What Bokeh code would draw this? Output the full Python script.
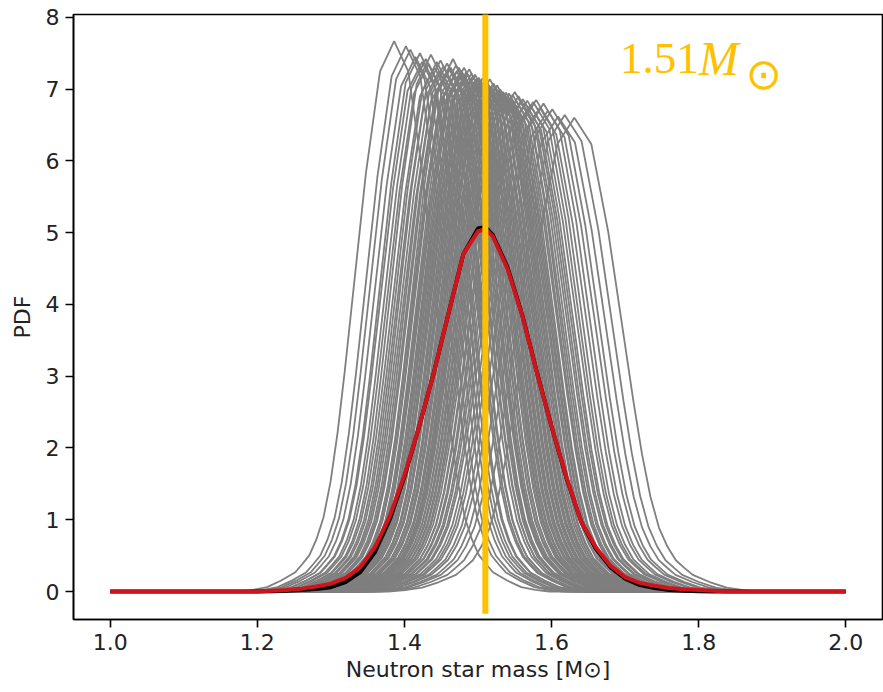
from bokeh.plotting import figure
from bokeh.models import FixedTicker, Label
from bokeh.embed import file_html
from bokeh.resources import INLINE

# ---------------- data ----------------
x_ticks = [1.0, 1.2, 1.4, 1.6, 1.8, 2.0]
x_tick_labels = ["1.0", "1.2", "1.4", "1.6", "1.8", "2.0"]
y_ticks = [0, 1, 2, 3, 4, 5, 6, 7, 8]

# shape of an individual (grey) sample curve: offset from its peak, height relative to peak
profile_dx = [-0.22, -0.20, -0.18, -0.16, -0.14, -0.13, -0.12, -0.11, -0.10, -0.09, -0.08,
              -0.07, -0.06, -0.05, -0.04, -0.02, 0.0, 0.02, 0.04, 0.05, 0.06,
              0.07, 0.08, 0.09, 0.10, 0.11, 0.12, 0.13, 0.14, 0.16, 0.18, 0.20, 0.22]
profile_y = [0.0, 0.003, 0.008, 0.02, 0.035, 0.05, 0.066, 0.095, 0.135, 0.20, 0.29,
             0.40, 0.52, 0.64, 0.76, 0.945, 1.0, 0.945, 0.76, 0.64, 0.52,
             0.40, 0.29, 0.20, 0.135, 0.095, 0.066, 0.05, 0.035, 0.02, 0.008, 0.003, 0.0]

# peak position, peak height and relative width of each grey sample curve
curve_centers = [
    1.386, 1.402, 1.408, 1.415, 1.421, 1.424, 1.429, 1.433, 1.436, 1.441,
    1.444, 1.447, 1.449, 1.453, 1.456, 1.458, 1.461, 1.463, 1.466, 1.468,
    1.470, 1.471, 1.474, 1.476, 1.477, 1.479, 1.481, 1.483, 1.484, 1.486,
    1.488, 1.489, 1.491, 1.493, 1.494, 1.496, 1.498, 1.499, 1.501, 1.503,
    1.504, 1.506, 1.508, 1.509, 1.511, 1.513, 1.514, 1.516, 1.518, 1.519,
    1.521, 1.523, 1.525, 1.526, 1.528, 1.530, 1.532, 1.534, 1.536, 1.538,
    1.540, 1.542, 1.545, 1.547, 1.550, 1.552, 1.555, 1.558, 1.561, 1.564,
    1.567, 1.571, 1.575, 1.579, 1.584, 1.589, 1.595, 1.601, 1.609, 1.618,
    1.631]
curve_peaks = [
    7.67, 7.60, 7.55, 7.45, 7.50, 7.38, 7.42, 7.35, 7.48, 7.30,
    7.38, 7.25, 7.40, 7.32, 7.22, 7.36, 7.28, 7.30, 7.42, 7.20,
    7.33, 7.25, 7.30, 7.18, 7.26, 7.22, 7.30, 7.15, 7.24, 7.20,
    7.28, 7.12, 7.22, 7.18, 7.10, 7.20, 7.14, 7.08, 7.16, 7.12,
    7.05, 7.15, 7.10, 7.02, 7.12, 7.06, 7.00, 7.14, 7.04, 6.98,
    7.08, 7.02, 6.95, 7.05, 6.98, 7.00, 6.92, 6.96, 6.90, 6.95,
    6.88, 6.94, 6.86, 6.92, 6.96, 6.84, 6.90, 6.82, 6.86, 6.80,
    6.84, 6.78, 6.82, 6.85, 6.74, 6.80, 6.70, 6.72, 6.62, 6.64,
    6.60]
curve_widths = [
    0.96, 0.97, 0.97, 0.98, 0.97, 0.99, 0.98, 0.99, 0.97, 1.00,
    0.99, 1.00, 0.98, 1.00, 1.01, 0.99, 1.00, 1.00, 0.98, 1.01,
    1.00, 1.01, 1.00, 1.02, 1.01, 1.02, 1.00, 1.03, 1.01, 1.02,
    1.01, 1.03, 1.02, 1.03, 1.04, 1.02, 1.03, 1.04, 1.03, 1.04,
    1.05, 1.03, 1.04, 1.05, 1.04, 1.05, 1.06, 1.04, 1.05, 1.06,
    1.05, 1.06, 1.07, 1.06, 1.07, 1.06, 1.08, 1.07, 1.08, 1.07,
    1.08, 1.07, 1.09, 1.08, 1.07, 1.09, 1.08, 1.10, 1.09, 1.10,
    1.09, 1.11, 1.10, 1.10, 1.12, 1.11, 1.13, 1.12, 1.14, 1.14,
    1.15]

# mean curve (black) and Gaussian fit (red)
mass = [1.00, 1.20, 1.22, 1.24, 1.26, 1.28, 1.30, 1.32, 1.34, 1.36, 1.38, 1.40,
        1.42, 1.44, 1.46, 1.48, 1.50, 1.51, 1.52, 1.54, 1.56, 1.58, 1.60, 1.62,
        1.64, 1.66, 1.68, 1.70, 1.72, 1.74, 1.76, 1.78, 1.80, 1.82, 1.84, 2.00]
mean_pdf = [0.0, 0.0, 0.005, 0.01, 0.02, 0.035, 0.06, 0.13, 0.27, 0.55, 1.00, 1.60,
            2.30, 3.05, 3.88, 4.70, 5.06, 5.08, 4.97, 4.52, 3.86, 3.06, 2.30, 1.59,
            0.98, 0.60, 0.34, 0.18, 0.09, 0.05, 0.02, 0.01, 0.005, 0.0, 0.0, 0.0]
fit_pdf = [0.0, 0.0, 0.01, 0.02, 0.04, 0.07, 0.11, 0.19, 0.34, 0.62, 1.05, 1.62,
           2.30, 3.05, 3.88, 4.70, 5.02, 5.05, 4.95, 4.50, 3.85, 3.05, 2.30, 1.60,
           0.98, 0.62, 0.36, 0.20, 0.12, 0.08, 0.05, 0.03, 0.02, 0.01, 0.0, 0.0]

marker_mass = [1.51]
marker_text = ["1.51", "M", "\u2299"]

# ---------------- figure ----------------
p = figure(width=883, height=692, x_range=(0.95, 2.05), y_range=(-0.39, 8.04),
           output_backend="svg", toolbar_location=None,
           min_border_left=73, min_border_right=1, min_border_top=14, min_border_bottom=73)
p.background_fill_color = "white"
p.border_fill_color = "white"
p.outline_line_color = "black"
p.outline_line_width = 1.6
p.xgrid.visible = False
p.ygrid.visible = False

# grey sample curves
xs, ys = [], []
for c, h, w in zip(curve_centers, curve_peaks, curve_widths):
    xs.append([1.0] + [c + w * d for d in profile_dx] + [2.0])
    ys.append([0.0] + [h * v for v in profile_y] + [0.0])
p.multi_line(xs, ys, line_color="#7f7f7f", line_width=1.8)

p.line(mass, mean_pdf, line_color="black", line_width=4)
p.line(mass, fit_pdf, line_color="#d0141c", line_width=4)

# vertical marker
p.segment(x0=marker_mass, y0=[-0.31], x1=marker_mass, y1=[8.2],
          line_color="#FFC000", line_width=6)

p.add_layout(Label(x=1.693, y=7.43, text=marker_text[0], text_font="Liberation Serif",
                   text_font_size="45px", text_color="#FFC000", text_baseline="alphabetic"))
p.add_layout(Label(x=1.800, y=7.43, text=marker_text[1], text_font="Liberation Serif",
                   text_font_style="italic", text_font_size="48px", text_color="#FFC000",
                   text_baseline="alphabetic"))
p.add_layout(Label(x=1.864, y=7.21, text=marker_text[2], text_font="DejaVu Sans",
                   text_font_size="43px", text_color="#FFC000", text_baseline="alphabetic"))

# axes
p.xaxis.ticker = FixedTicker(ticks=x_ticks)
p.xaxis.major_label_overrides = {t: l for t, l in zip(x_ticks, x_tick_labels)}
p.yaxis.ticker = FixedTicker(ticks=y_ticks)
p.xaxis.axis_label = "Neutron star mass [M\u2299]"
p.yaxis.axis_label = "PDF"
for ax in (p.xaxis, p.yaxis):
    ax.axis_line_color = "black"
    ax.axis_line_width = 1.6
    ax.major_tick_line_color = "black"
    ax.major_tick_line_width = 1.6
    ax.major_tick_in = 0
    ax.major_tick_out = 8
    ax.minor_tick_line_color = None
    ax.major_label_text_font = "DejaVu Sans"
    ax.major_label_text_font_size = "22px"
    ax.major_label_text_color = "#222222"
    ax.axis_label_text_font = "DejaVu Sans"
    ax.axis_label_text_font_size = "22px"
    ax.axis_label_text_font_style = "normal"
    ax.axis_label_text_color = "#222222"
p.xaxis.major_label_standoff = 6
p.xaxis.axis_label_standoff = 4
p.yaxis.major_label_standoff = 6
p.yaxis.axis_label_standoff = 8

open("out.html", "w").write(file_html(p, INLINE))
